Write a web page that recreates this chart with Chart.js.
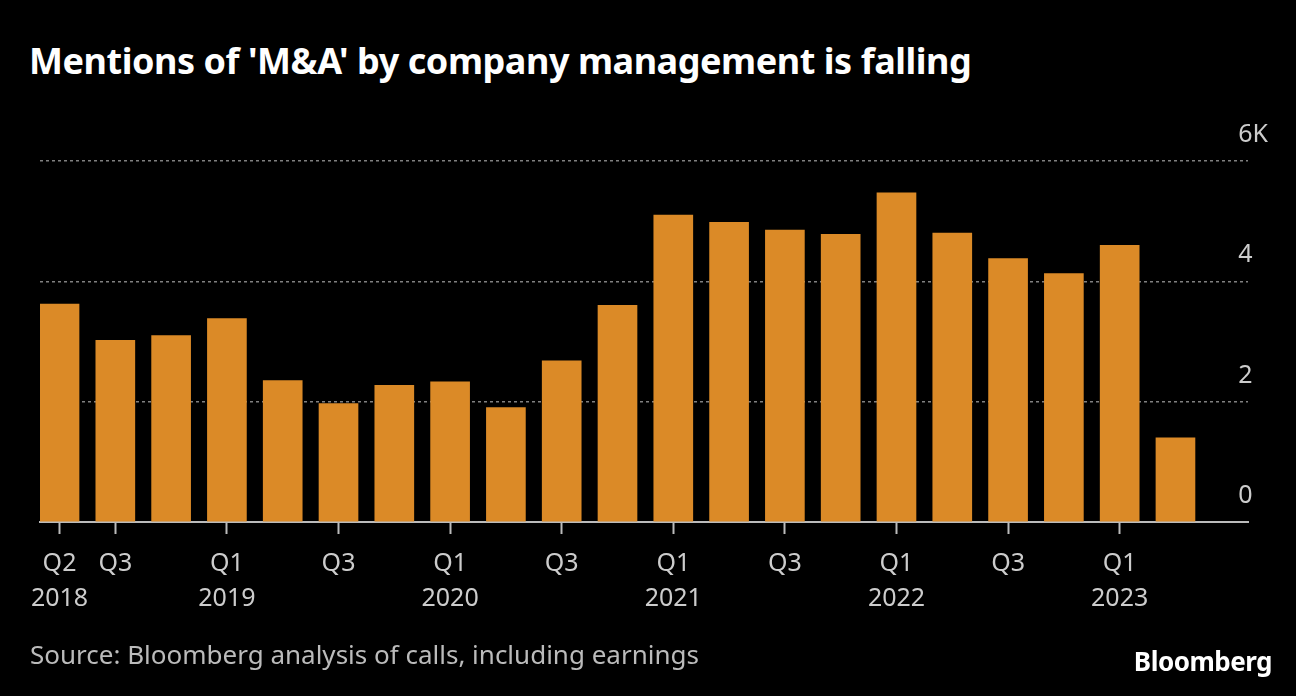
<!DOCTYPE html>
<html>
<head>
<meta charset="utf-8">
<script src="https://cdn.jsdelivr.net/npm/chart.js@4/dist/chart.umd.min.js"></script>
<style>
  html, body { margin: 0; padding: 0; background: #000; }
  body { width: 1296px; height: 696px; position: relative; overflow: hidden; font-family: "Noto Sans", sans-serif; }
  #title { position: absolute; left: 29px; top: 43px; color: #fff; font-size: 36px; font-weight: 700; letter-spacing: -0.45px; line-height: 1; white-space: nowrap; }
  #source { position: absolute; left: 30px; top: 641px; color: #bbb; font-size: 26px; line-height: 1; white-space: nowrap; }
  #logo { position: absolute; right: 24px; top: 648px; color: #fff; font-size: 26px; font-weight: 700; letter-spacing: -0.5px; line-height: 1; }
  #wrap { position: absolute; left: 0; top: 0; width: 1296px; height: 696px; }
</style>
</head>
<body>
<div id="title">Mentions of 'M&amp;A' by company management is falling</div>
<div id="wrap"><canvas id="chart"></canvas></div>
<div id="source">Source: Bloomberg analysis of calls, including earnings</div>
<div id="logo">Bloomberg</div>
<script>
// quarterly mentions, thousands
var quarters = ["Q2 2018", "Q3 2018", "Q4 2018", "Q1 2019", "Q2 2019", "Q3 2019", "Q4 2019",
  "Q1 2020", "Q2 2020", "Q3 2020", "Q4 2020", "Q1 2021", "Q2 2021", "Q3 2021", "Q4 2021",
  "Q1 2022", "Q2 2022", "Q3 2022", "Q4 2022", "Q1 2023", "Q2 2023"];
var mentions = [3.62, 3.02, 3.10, 3.38, 2.35, 1.97, 2.27, 2.33, 1.90, 2.68, 3.60,
  5.10, 4.98, 4.85, 4.78, 5.47, 4.80, 4.38, 4.13, 4.60, 1.40];
var tickIndexes = [0, 1, 3, 5, 7, 9, 11, 13, 15, 17, 19];
var tickLabels = [["Q2", "2018"], ["Q3"], ["Q1", "2019"], ["Q3"], ["Q1", "2020"], ["Q3"],
  ["Q1", "2021"], ["Q3"], ["Q1", "2022"], ["Q3"], ["Q1", "2023"]];
var yTicks = [0, 2, 4, 6];
var yTickLabels = ["0", "2", "4", "6K"];

var points = mentions.map(function (v, i) { return { x: i, y: v }; });

new Chart(document.getElementById("chart").getContext("2d"), {
  type: "bar",
  data: {
    datasets: [{
      data: points,
      backgroundColor: "#db8a27",
      borderWidth: 0,
      barThickness: 39
    }]
  },
  options: {
    responsive: true,
    maintainAspectRatio: false,
    animation: false,
    layout: { padding: { left: 40, right: 8, top: 161, bottom: 68 } },
    plugins: { legend: { display: false }, tooltip: { enabled: false } },
    scales: {
      x: {
        type: "linear",
        offset: false,
        min: -0.35,
        max: 21.3,
        afterBuildTicks: function (scale) {
          scale.ticks = tickIndexes.map(function (v) { return { value: v }; });
        },
        ticks: {
          autoSkip: false,
          maxRotation: 0,
          color: "#cccccc",
          font: { family: "Noto Sans", size: 25, lineHeight: 1.4 },
          padding: 12,
          callback: function (value) {
            var k = tickIndexes.indexOf(value);
            return k >= 0 ? tickLabels[k] : "";
          }
        },
        grid: { offset: false, drawOnChartArea: false, drawTicks: true, tickLength: 12, tickColor: "#bbbbbb", tickWidth: 2 },
        border: { display: true, color: "#bbbbbb", width: 2 }
      },
      y: {
        position: "right",
        min: 0,
        max: 6,
        afterBuildTicks: function (scale) {
          scale.ticks = yTicks.map(function (v) { return { value: v }; });
        },
        ticks: {
          color: "#cccccc",
          font: { family: "Noto Sans", size: 25 },
          mirror: true,
          crossAlign: "far",
          padding: 20,
          labelOffset: -26,
          callback: function (value) {
            return yTickLabels[yTicks.indexOf(value)];
          }
        },
        grid: {
          drawTicks: false,
          color: function (ctx) { return ctx.tick && ctx.tick.value === 0 ? "rgba(0,0,0,0)" : "#808080"; },
          lineWidth: 1.5
        },
        border: { display: false, dash: [3, 3] }
      }
    }
  }
});
</script>
</body>
</html>
